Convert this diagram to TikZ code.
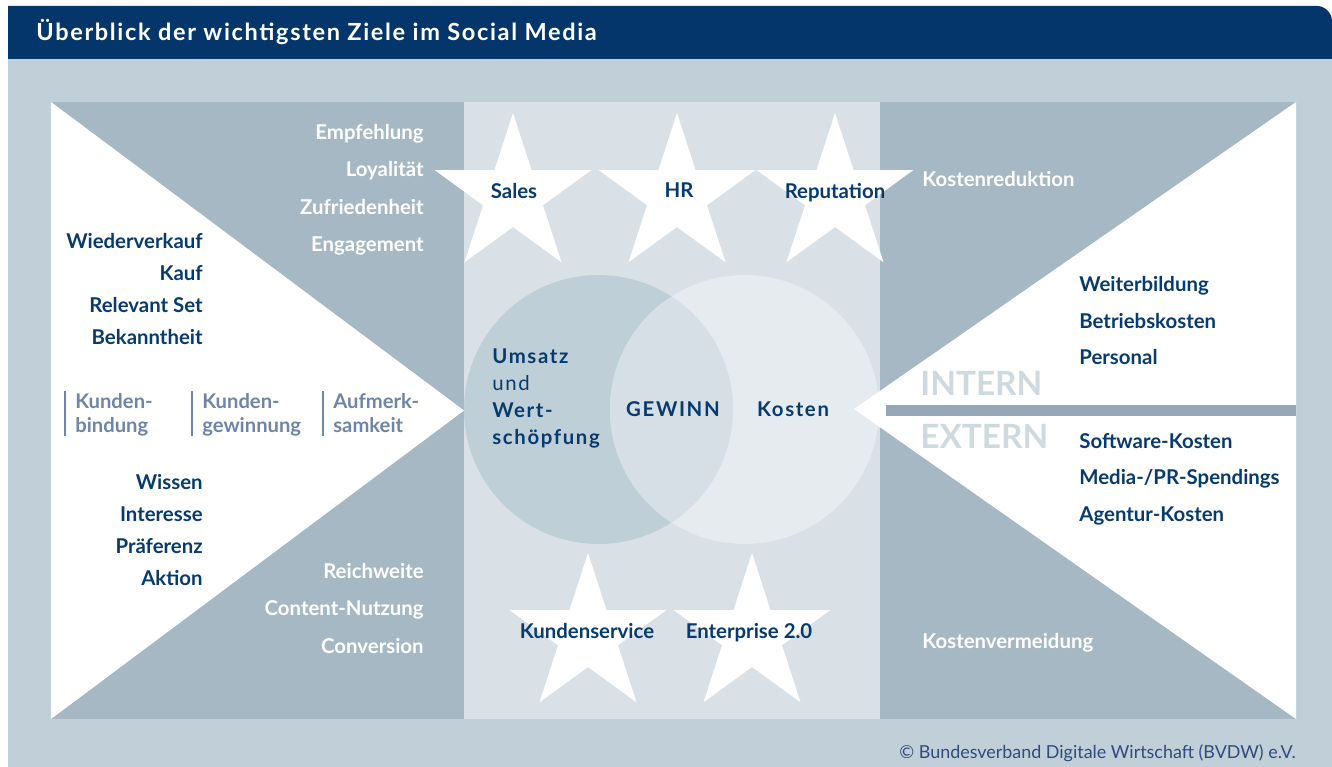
\documentclass[tikz,border=0pt]{standalone}
\usepackage{fontspec}
\setmainfont{Lato}
\usetikzlibrary{shapes.geometric}
\definecolor{kopfblau}{HTML}{04356B}
\definecolor{grund}{HTML}{C1D0D8}
\definecolor{dunkel}{HTML}{A5B8C4}
\definecolor{hell}{HTML}{D9E1E6}
\definecolor{kreisa}{HTML}{BFCFD8}
\definecolor{kreisb}{HTML}{E5EBEF}
\definecolor{kreisab}{HTML}{D5DFE5}
\definecolor{navy}{HTML}{073B6F}
\definecolor{phasenfarbe}{HTML}{6E84A9}
\definecolor{balken}{HTML}{94A9B5}
\definecolor{intern}{HTML}{CFDAE0}
\definecolor{copy}{HTML}{2E4B7C}
\begin{document}
\begin{tikzpicture}[x=0.02cm,y=-0.02cm,every node/.style={inner sep=0pt},
		ziel/.style={font=\bfseries\fontsize{11.6}{13}\selectfont,text=navy,anchor=mid,yshift=-1.4pt},
		zielweiss/.style={ziel,text=white},
		kreistext/.style={ziel,font=\bfseries\fontsize{11.6}{15.3}\selectfont\addfontfeature{LetterSpace=8}},
		phase/.style={font=\bfseries\fontsize{11.5}{13.6}\selectfont,text=phasenfarbe,align=left,anchor=north west},
		stern/.style={star,star points=5,star point ratio=2.618,fill=white,minimum size=3.3cm,inner sep=0pt},
		ebene/.style={font=\bfseries\fontsize{19}{21}\selectfont,text=intern,anchor=base west}]
	\useasboundingbox (0,0) rectangle (1332,767);
	\fill[grund] (8,59) rectangle (1332,767);
	\fill[kopfblau] (8,59) -- (8,6) -- (1317,6) .. controls (1325,6) and (1332,13) .. (1332,21) -- (1332,59) -- cycle;
	\node[font=\bfseries\fontsize{13.4}{15}\selectfont\addfontfeature{LetterSpace=7},text=white,anchor=mid west,yshift=-1.4pt] (titel) at (36,34) {Überblick der wichtigsten Ziele im Social Media};
	% linke Seite
	\fill[dunkel] (51,102) rectangle (464,719);
	\fill[white] (51,102) -- (464,410.5) -- (51,719) -- cycle;
	% Mitte
	\fill[hell] (464,102) rectangle (880,719);
	\fill[kreisa] (598.5,409.5) circle[radius=2.69cm];
	\fill[kreisb] (744.5,409.5) circle[radius=2.69cm];
	\begin{scope}
		\clip (598.5,409.5) circle[radius=2.69cm];
		\fill[kreisab] (744.5,409.5) circle[radius=2.69cm];
	\end{scope}
	% rechte Seite
	\fill[dunkel] (880,102) rectangle (1296,719);
	\fill[white] (1296,102) -- (854,409) -- (1296,719) -- cycle;
	\fill[balken] (886,405) rectangle (1296,416);
	\node[ebene] (intern) at (920,395) {INTERN};
	\node[ebene] (extern) at (920,448) {EXTERN};
	% Sterne
	\foreach \n/\x/\y in {sales/513/195.5,hr/677/195.5,reputation/835/195.5,service/588/635.5,enterprise/752/635.5}
		\node[stern] (s\n) at (\x,\y) {};
	\node[ziel] (sales) at (514,192) {Sales};
	\node[ziel] (hr) at (679,191) {HR};
	\node[ziel] (reputation) at (835,192) {Reputation};
	\node[ziel] (service) at (587,632) {Kundenservice};
	\node[ziel] (enterprise) at (749,632) {Enterprise 2.0};
	% Texte links
	\foreach \t/\y [count=\i] in {Wiederverkauf/242,Kauf/274,Relevant Set/306,Bekanntheit/338,Wissen/483,Interesse/515,Präferenz/547,Aktion/579}
		\node[ziel,anchor=mid east] (stufe\i) at (203,\y) {\t};
	\foreach \t/\y [count=\i] in {Empfehlung/133,Loyalität/170,Zufriedenheit/208,Engagement/245,Reichweite/572,Content-Nutzung/609,Conversion/647}
		\node[zielweiss,anchor=mid east] (kpi\i) at (424,\y) {\t};
	\node[phase] (bindung) at (75,393) {Kunden-\\bindung};
	\node[phase] (gewinnung) at (202,393) {Kunden-\\gewinnung};
	\node[phase] (aufmerksamkeit) at (333,393) {Aufmerk-\\samkeit};
	\foreach \x in {65,192,323}
		\draw[phasenfarbe,line width=1.7pt] (\x,391) -- (\x,436);
	% Kreise
	\node[kreistext,align=left,anchor=north west,yshift=0pt] (umsatz) at (492,346) {Umsatz\\{\mdseries und}\\Wert-\\schöpfung};
	\node[kreistext] (gewinn) at (673,410) {GEWINN};
	\node[kreistext] (kosten) at (793,410) {Kosten};
	% Texte rechts
	\node[zielweiss,anchor=mid west] (reduktion) at (922,180) {Kostenreduktion};
	\node[zielweiss,anchor=mid west] (vermeidung) at (922,642) {Kostenvermeidung};
	\foreach \t/\y [count=\i] in {Weiterbildung/285,Betriebskosten/322,Personal/358,Software-Kosten/442,{Media-/PR-Spendings}/478,Agentur-Kosten/515}
		\node[ziel,anchor=mid west] (kostenart\i) at (1079,\y) {\t};
	\node[font=\fontsize{10.2}{12}\selectfont,text=copy,anchor=mid east,yshift=-1pt] (quelle) at (1296,752) {© Bundesverband Digitale Wirtschaft (BVDW) e.V.};
\end{tikzpicture}
\end{document}
